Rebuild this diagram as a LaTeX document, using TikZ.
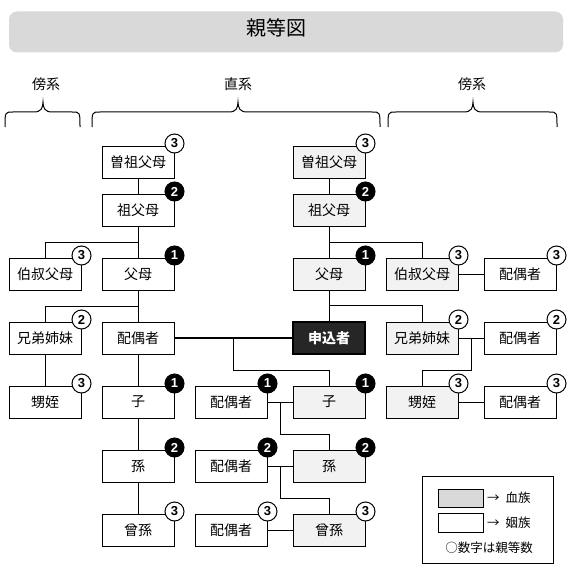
\documentclass[tikz,border=0pt]{standalone}
\usepackage{fontspec}
\setmainfont{Noto Sans CJK JP}
\newfontfamily\numfont{Liberation Sans}

\tikzset{
  box/.style={draw, line width=1pt, fill=white, minimum width=72pt, minimum height=32pt,
    inner sep=0pt, font=\fontsize{14}{16}\selectfont},
  blood/.style={box, fill=gray!10},
  self/.style={box, fill=black!85, line width=1.5pt, text=white,
    font=\fontsize{14}{16}\selectfont\bfseries},
  degw/.style={circle, draw, line width=1pt, fill=white, minimum size=19pt, inner sep=0pt,
    font=\numfont\bfseries\fontsize{13}{13}\selectfont},
  degb/.style={degw, fill=black, text=white},
  link/.style={line width=1pt},
}

\begin{document}
\begin{tikzpicture}[x=1pt, y=-1pt]
    \useasboundingbox (0,0) rectangle (569,575);

    % draw the title bar
    \node[fill=gray!30, rounded corners=8pt, minimum width=554pt, minimum height=41pt] (bar) at (286,32) {};
    \node[font=\fontsize{20}{22}\selectfont] (title) at (276,28) {親等図};

    % draw the braces
    \foreach \a/\b/\m in {5/80/43, 92/380/238, 388/557/473}
        \draw[link] (\a,127) .. controls (\a,112) .. (\a+8,112) -- (\m-9,112)
            .. controls (\m-2,112) and (\m,108) .. (\m,102)
            .. controls (\m,108) and (\m+2,112) .. (\m+9,112) -- (\b-8,112)
            .. controls (\b,112) .. (\b,127);
    \node[font=\fontsize{14}{16}\selectfont] (coll1) at (46,84) {傍系};
    \node[font=\fontsize{14}{16}\selectfont] (direct) at (238,84) {直系};
    \node[font=\fontsize{14}{16}\selectfont] (coll2) at (472,84) {傍系};

    % draw the boxes
    \foreach \n/\x/\y/\txt/\st in {
        % the spouse's side
        lggp/138/162/曽祖父母/box,
        lgp/138/210/祖父母/box,
        lpar/138/274/父母/box,
        lsp/138/338/配偶者/box,
        lch/138/402/子/box,
        lgch/138/466/孫/box,
        lggch/138/530/曾孫/box,
        lunc/45/274/伯叔父母/box,
        lsib/45/338/兄弟姉妹/box,
        lnep/45/402/甥姪/box,
        % the spouses of the descendants
        csp1/231/402/配偶者/box,
        csp2/231/466/配偶者/box,
        csp3/231/530/配偶者/box,
        % the applicant's side
        rggp/329/162/曽祖父母/blood,
        rgp/329/210/祖父母/blood,
        rpar/329/274/父母/blood,
        app/329/338/申込者/self,
        rch/329/402/子/blood,
        rgch/329/466/孫/blood,
        rggch/329/530/曾孫/blood,
        runc/422/274/伯叔父母/blood,
        rsib/422/338/兄弟姉妹/blood,
        rnep/422/402/甥姪/blood,
        fsp1/520/274/配偶者/box,
        fsp2/520/338/配偶者/box,
        fsp3/520/402/配偶者/box}
        \node[\st] (\n) at (\x,\y) {\txt};

    % draw the connectors
    \draw[link] (lggp) -- (lgp) -- (lpar) -- (lsp) -- (lch) -- (lgch) -- (lggch);
    \path (lgp.south) -- (lpar.north) coordinate[midway] (lj1);
    \draw[link] (lj1) -| (lunc);
    \path (lpar.south) -- (lsp.north) coordinate[midway] (lj2);
    \draw[link] (lj2) -| (lsib);
    \draw[link] (lsib) -- (lnep);

    \draw[link] (rggp) -- (rgp) -- (rpar) -- (app);
    \path (rgp.south) -- (rpar.north) coordinate[midway] (rj1);
    \draw[link] (rj1) -| (runc);
    \path (rpar.south) -- (app.north) coordinate[midway] (rj2);
    \draw[link] (rj2) -| (rsib);
    \draw[link] (runc) -- (fsp1);
    \draw[link] (rsib) -- (fsp2);
    \draw[link] (rnep) -- (fsp3);
    \path (rsib.east) -- (fsp2.west) coordinate[midway] (sj);
    \path (rsib.south) -- (rnep.north) coordinate[midway] (sk);
    \draw[link] (sj) |- (sk) -- (rnep);

    % the marriage line and the children
    \draw[line width=2pt] (lsp) -- (app);
    \path (lsp.east) -- (app.west) coordinate[midway] (mj);
    \path (app.south) -- (rch.north) coordinate[midway] (mk);
    \draw[link] (mj) |- (mk) -- (rch);
    \draw[link] (csp1) -- (rch);
    \path (csp1.east) -- (rch.west) coordinate[midway] (cj1);
    \path (rch.south) -- (rgch.north) coordinate[midway] (ck1);
    \draw[link] (cj1) |- (ck1) -- (rgch);
    \draw[link] (csp2) -- (rgch);
    \path (csp2.east) -- (rgch.west) coordinate[midway] (cj2);
    \path (rgch.south) -- (rggch.north) coordinate[midway] (ck2);
    \draw[link] (cj2) |- (ck2) -- (rggch);
    \draw[link] (csp3) -- (rggch);

    % draw the degree of each box
    \foreach \n/\d/\st in {
        lggp/3/degw, lgp/2/degb, lpar/1/degb, lch/1/degb, lgch/2/degb, lggch/3/degw,
        lunc/3/degw, lsib/2/degw, lnep/3/degw,
        csp1/1/degb, csp2/2/degb, csp3/3/degw,
        rggp/3/degw, rgp/2/degb, rpar/1/degb, rch/1/degb, rgch/2/degb, rggch/3/degw,
        runc/3/degw, rsib/2/degw, rnep/3/degw,
        fsp1/3/degw, fsp2/2/degw, fsp3/3/degw}
        \node[\st] (d-\n) at ([yshift=2pt]\n.north east) {\d};

    % draw the legend
    \node[draw, line width=1pt, minimum width=131pt, minimum height=87pt] (legend) at (487.5,519.5) {};
    \node[draw, fill=gray!30, minimum width=45pt, minimum height=18pt] (keyb) at (460.5,498) {};
    \node[draw, fill=white, minimum width=45pt, minimum height=19pt] (keyi) at (460.5,522.5) {};
    \node[anchor=west, inner sep=0pt, font=\fontsize{12.5}{14}\selectfont] (keybt) at (487,498) {→\hspace{6pt}血族};
    \node[anchor=west, inner sep=0pt, font=\fontsize{12.5}{14}\selectfont] (keyit) at (487,522.5) {→\hspace{6pt}姻族};
    \node[font=\fontsize{12.5}{14}\selectfont] (note) at (489,548) {○数字は親等数};
\end{tikzpicture}
\end{document}
